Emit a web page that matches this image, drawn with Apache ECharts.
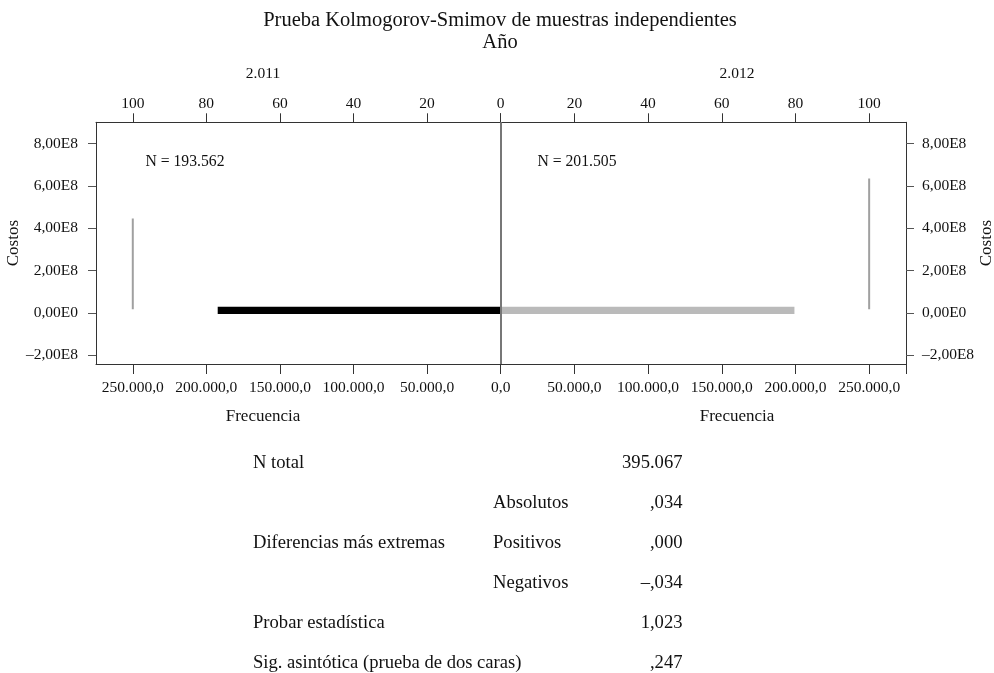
<!DOCTYPE html>
<html>
<head>
<meta charset="utf-8">
<script src="https://cdn.jsdelivr.net/npm/echarts@6/dist/echarts.min.js"></script>
<style>
  html, body { margin: 0; padding: 0; background: #fff; }
  #chart { width: 994px; height: 673px; }
</style>
</head>
<body>
<div id="chart"></div>
<script>
// ---- data ----
const years = ['2.011', '2.012'];
const groupN = ['N = 193.562', 'N = 201.505'];
// histogram bins per year: [frequency, cost bin lower edge, cost bin upper edge]
const bins2011 = [[192300, -0.06e8, 0.28e8]];
const bins2012 = [[199300, -0.06e8, 0.28e8]];
// cumulative percentage curve per year: [percent, cost]
const cum2011 = [[100, 0.17e8], [100, 4.46e8]];
const cum2012 = [[100, 0.17e8], [100, 6.35e8]];
// axis ticks
const freqTicks = [0, 50000, 100000, 150000, 200000, 250000];
const pctTicks = [0, 20, 40, 60, 80, 100];
const costTicks = [-2e8, 0, 2e8, 4e8, 6e8, 8e8];
// test statistics table
const tableCol1 = ['N total', '', 'Diferencias más extremas', '', 'Probar estadística', 'Sig. asintótica (prueba de dos caras)'];
const tableCol2 = ['', 'Absolutos', 'Positivos', 'Negativos', '', ''];
const tableCol3 = ['395.067', ',034', ',000', '–,034', '1,023', ',247'];

// ---- formatting ----
const FONT = '"Liberation Serif", "Times New Roman", serif';
const AXIS_COLOR = '#333';
const TICK_COLOR = '#555';

function fmtFreq(v) {
  const s = Math.round(v).toString().replace(/\B(?=(\d{3})+(?!\d))/g, '.');
  return s + ',0';
}
function fmtCost(v) {
  if (v === 0) return '0,00E0';
  const e = Math.floor(Math.log10(Math.abs(v)) + 1e-9);
  const m = v / Math.pow(10, e);
  return (m < 0 ? '–' : '') + Math.abs(m).toFixed(2).replace('.', ',') + 'E' + e;
}

function binRect(params, api) {
  const p0 = api.coord([0, api.value(1)]);
  const p1 = api.coord([api.value(0), api.value(2)]);
  return {
    type: 'rect',
    shape: {
      x: Math.min(p0[0], p1[0]),
      y: Math.min(p0[1], p1[1]),
      width: Math.abs(p1[0] - p0[0]),
      height: Math.abs(p1[1] - p0[1])
    },
    style: api.style()
  };
}

const labelStyle = { color: '#111', fontFamily: FONT, fontSize: 15.5 };
const axisLine = { show: true, onZero: false, lineStyle: { color: AXIS_COLOR, width: 1 } };

function freqAxis(gridIndex, inverse, labelVals, tickVals) {
  return {
    type: 'value', gridIndex, position: 'bottom', inverse,
    min: 0, max: 275000,
    axisLine,
    axisTick: { show: true, length: 10, customValues: tickVals, lineStyle: { color: AXIS_COLOR } },
    axisLabel: Object.assign({ margin: 16, customValues: labelVals, formatter: fmtFreq }, labelStyle),
    splitLine: { show: false }
  };
}
function pctAxis(gridIndex, inverse, labelVals) {
  return {
    type: 'value', gridIndex, position: 'top', inverse,
    min: 0, max: 110,
    axisLine,
    axisTick: { show: true, length: 9, customValues: pctTicks, lineStyle: { color: AXIS_COLOR } },
    axisLabel: Object.assign({ margin: 10, customValues: labelVals }, labelStyle),
    splitLine: { show: false }
  };
}
function costAxis(gridIndex, position, gap) {
  return {
    type: 'value', gridIndex, position,
    min: -2.42e8, max: 9.0e8,
    name: 'Costos', nameLocation: 'middle', nameRotate: 90, nameGap: gap,
    nameTextStyle: { color: '#111', fontFamily: FONT, fontSize: 17 },
    axisLine,
    axisTick: { show: true, length: 8, customValues: costTicks, lineStyle: { color: TICK_COLOR } },
    axisLabel: Object.assign({ margin: position === 'left' ? 18 : 16, customValues: costTicks, formatter: fmtCost }, labelStyle),
    splitLine: { show: false }
  };
}

// ---- text elements ----
const txt = (text, x, y, size, align) => ({
  type: 'text', x, y, silent: true,
  style: { text, fill: '#111', font: size + 'px ' + FONT, textAlign: align || 'center', textVerticalAlign: 'middle' }
});

const graphics = [
  txt('Prueba Kolmogorov-Smimov de muestras independientes', 500, 21, 20.5),
  txt('Año', 500, 43, 20.5),
  txt(years[0], 263, 74, 15.5),
  txt(years[1], 737, 74, 15.5),
  txt(groupN[0], 185, 162, 15.7),
  txt(groupN[1], 577, 162, 15.7),
  txt('Frecuencia', 263, 417, 17),
  txt('Frecuencia', 737, 417, 17)
];
for (let i = 0; i < tableCol1.length; i++) {
  const y = 463.3 + 40 * i;
  if (tableCol1[i]) graphics.push(txt(tableCol1[i], 253, y, 18.6, 'left'));
  if (tableCol2[i]) graphics.push(txt(tableCol2[i], 493, y, 18.6, 'left'));
  graphics.push(txt(tableCol3[i], 682.5, y, 18.6, 'right'));
}

const option = {
  animation: false,
  backgroundColor: '#fff',
  grid: [
    { left: 96, right: 493.3, top: 122.3, bottom: 309, outerBoundsMode: 'none', containLabel: false },
    { left: 500.7, right: 88, top: 122.3, bottom: 309, outerBoundsMode: 'none', containLabel: false }
  ],
  xAxis: [
    freqAxis(0, true, freqTicks, freqTicks),
    pctAxis(0, true, pctTicks),
    freqAxis(1, false, freqTicks.slice(1), freqTicks.concat([275000])),
    pctAxis(1, false, pctTicks.slice(1))
  ],
  yAxis: [
    costAxis(0, 'left', 66),
    costAxis(1, 'right', 72)
  ],
  series: [
    {
      type: 'custom', xAxisIndex: 0, yAxisIndex: 0,
      renderItem: binRect, encode: { x: 0, y: [1, 2] },
      itemStyle: { color: '#000' }, data: bins2011
    },
    {
      type: 'custom', xAxisIndex: 2, yAxisIndex: 1,
      renderItem: binRect, encode: { x: 0, y: [1, 2] },
      itemStyle: { color: '#bababa' }, data: bins2012,
      markLine: {
        silent: true, symbol: 'none', label: { show: false },
        lineStyle: { color: '#777', width: 2, type: 'solid' },
        data: [{ xAxis: 0 }]
      }
    },
    {
      type: 'line', xAxisIndex: 1, yAxisIndex: 0, data: cum2011,
      symbol: 'none', lineStyle: { color: '#a0a0a0', width: 2 }
    },
    {
      type: 'line', xAxisIndex: 3, yAxisIndex: 1, data: cum2012,
      symbol: 'none', lineStyle: { color: '#a0a0a0', width: 2 }
    }
  ],
  graphic: graphics
};

const chart = echarts.init(document.getElementById('chart'), null, { renderer: 'canvas' });
chart.setOption(option);
</script>
</body>
</html>
